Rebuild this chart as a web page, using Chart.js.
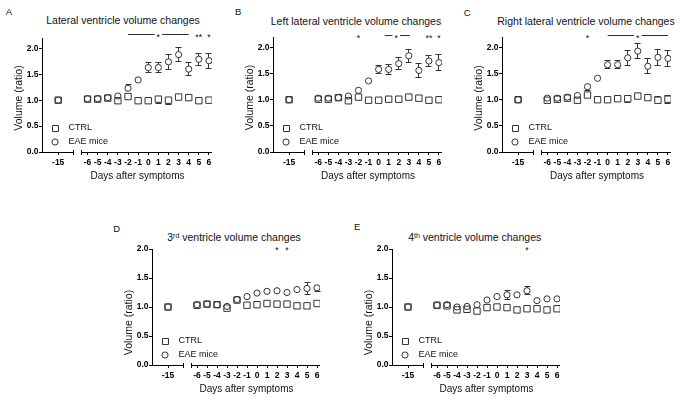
<!DOCTYPE html>
<html lang="en">
<head>
<meta charset="utf-8">
<title>Ventricle volume changes</title>
<script src="https://cdn.jsdelivr.net/npm/chart.js@4.4.1/dist/chart.umd.min.js"></script>
<style>
  html, body { margin: 0; padding: 0; background: #fff; }
  body { position: relative; width: 683px; height: 401px; overflow: hidden;
         font-family: "Liberation Sans", Arial, sans-serif; color: #111; }
  canvas { position: absolute; }
  .letra { position: absolute; font-size: 9.5px; line-height: 1; }
  .titulo { position: absolute; font-size: 10.5px; line-height: 1; white-space: nowrap; transform: translateX(-50%); }
  .titulo span { font-size: 7px; line-height: 0; vertical-align: 3.5px; }
</style>
</head>
<body>
<script>
// Dias despues de los sintomas (el -15 queda antes del corte del eje)
const dias = [-15, -6, -5, -4, -3, -2, -1, 0, 1, 2, 3, 4, 5, 6];
const ticksY = [0, 0.5, 1.0, 1.5, 2.0];
const series = ['CTRL', 'EAE mice'];
const letras = ['A', 'B', 'C', 'D', 'E'];
const titulos = [
  'Lateral ventricle volume changes',
  'Left lateral ventricle volume changes',
  'Right lateral ventricle volume changes',
  '3<span>rd</span> ventricle volume changes',
  '4<span>th</span> ventricle volume changes'
];
const tituloX = 'Days after symptoms';
const tituloY = 'Volume (ratio)';

// A - ventriculo lateral
const ctrlA    = [1.00, 1.02, 1.02, 1.04, 0.99, 1.07, 0.99, 0.99, 1.02, 1.00, 1.06, 1.05, 0.99, 1.00];
const ctrlErrA = [0.00, 0.02, 0.02, 0.02, 0.03, 0.03, 0.02, 0.03, 0.08, 0.08, 0.05, 0.04, 0.06, 0.07];
const eaeA     = [1.00, 1.03, 1.03, 1.05, 1.08, 1.23, 1.39, 1.63, 1.63, 1.74, 1.88, 1.60, 1.79, 1.76];
const eaeErrA  = [0.00, 0.02, 0.02, 0.02, 0.02, 0.07, 0.04, 0.09, 0.09, 0.14, 0.13, 0.12, 0.12, 0.14];
const sigA = [{desde: -2, hasta: 4, en: 1, txt: '*'}, {en: 5, txt: '**'}, {en: 6, txt: '*'}];

// B - ventriculo lateral izquierdo
const ctrlB    = [1.00, 1.01, 1.01, 1.04, 0.98, 1.05, 0.99, 0.99, 1.01, 1.01, 1.05, 1.03, 0.99, 1.00];
const ctrlErrB = [0.00, 0.02, 0.02, 0.02, 0.03, 0.03, 0.02, 0.02, 0.05, 0.06, 0.05, 0.02, 0.02, 0.06];
const eaeB     = [1.00, 1.03, 1.03, 1.04, 1.07, 1.18, 1.36, 1.58, 1.58, 1.69, 1.84, 1.56, 1.74, 1.71];
const eaeErrB  = [0.00, 0.02, 0.02, 0.02, 0.02, 0.06, 0.04, 0.08, 0.09, 0.12, 0.13, 0.13, 0.11, 0.15];
const sigB = [{en: -2, txt: '*'}, {desde: 0.6, hasta: 3.1, en: 1.75, txt: '*'}, {en: 5, txt: '**'}, {en: 6, txt: '*'}];

// C - ventriculo lateral derecho
const ctrlC    = [1.00, 0.99, 1.01, 1.03, 0.99, 1.09, 1.00, 1.00, 1.02, 1.02, 1.07, 1.04, 0.99, 1.01];
const ctrlErrC = [0.00, 0.02, 0.02, 0.02, 0.02, 0.04, 0.02, 0.03, 0.05, 0.07, 0.04, 0.05, 0.07, 0.08];
const eaeC     = [1.00, 1.03, 1.03, 1.05, 1.08, 1.25, 1.41, 1.67, 1.67, 1.80, 1.93, 1.64, 1.81, 1.79];
const eaeErrC  = [0.00, 0.02, 0.02, 0.02, 0.02, 0.07, 0.04, 0.08, 0.08, 0.15, 0.14, 0.14, 0.15, 0.15];
const sigC = [{en: -2, txt: '*'}, {desde: 0, hasta: 6, en: 3, txt: '*'}];

// D - tercer ventriculo
const ctrlD    = [1.00, 1.03, 1.05, 1.04, 0.98, 1.12, 1.03, 1.04, 1.06, 1.05, 1.05, 1.02, 1.02, 1.06];
const ctrlErrD = [0.00, 0.02, 0.01, 0.02, 0.03, 0.01, 0.01, 0.01, 0.01, 0.01, 0.01, 0.01, 0.01, 0.03];
const eaeD     = [1.00, 1.04, 1.05, 1.04, 1.01, 1.13, 1.18, 1.24, 1.27, 1.28, 1.25, 1.30, 1.32, 1.33];
const eaeErrD  = [0.00, 0.03, 0.01, 0.01, 0.02, 0.01, 0.03, 0.04, 0.01, 0.05, 0.04, 0.05, 0.10, 0.06];
const sigD = [{en: 2, txt: '*'}, {en: 3, txt: '*'}];

// E - cuarto ventriculo
const ctrlE    = [1.00, 1.03, 1.02, 0.95, 0.96, 0.93, 0.99, 1.00, 0.99, 0.95, 0.97, 0.97, 0.95, 0.97];
const ctrlErrE = [0.00, 0.01, 0.03, 0.03, 0.03, 0.03, 0.01, 0.01, 0.01, 0.03, 0.01, 0.01, 0.01, 0.01];
const eaeE     = [1.00, 1.03, 1.04, 1.00, 1.01, 1.04, 1.12, 1.18, 1.21, 1.21, 1.28, 1.11, 1.14, 1.14];
const eaeErrE  = [0.00, 0.01, 0.02, 0.02, 0.02, 0.02, 0.03, 0.05, 0.08, 0.05, 0.07, 0.01, 0.01, 0.01];
const sigE = [{en: 3, txt: '*'}];

const datos = [
  {ctrl: ctrlA, ctrlErr: ctrlErrA, eae: eaeA, eaeErr: eaeErrA, sig: sigA, nivel: 2.26, ymax: 2.2},
  {ctrl: ctrlB, ctrlErr: ctrlErrB, eae: eaeB, eaeErr: eaeErrB, sig: sigB, nivel: 2.22, ymax: 2.2},
  {ctrl: ctrlC, ctrlErr: ctrlErrC, eae: eaeC, eaeErr: eaeErrC, sig: sigC, nivel: 2.22, ymax: 2.2},
  {ctrl: ctrlD, ctrlErr: ctrlErrD, eae: eaeD, eaeErr: eaeErrD, sig: sigD, nivel: 2.02, ymax: 2.0},
  {ctrl: ctrlE, ctrlErr: ctrlErrE, eae: eaeE, eaeErr: eaeErrE, sig: sigE, nivel: 2.02, ymax: 2.0}
];

// Posiciones en la pagina: area del grafico [l, t, r, b], letra, titulo
const disposicion = [
  {area: [42, 38, 212, 152],  letra: [5.7, 15],    titulo: [123, 24],    yTitulo: 54},
  {area: [273, 37, 442, 152], letra: [235, 15.3],  titulo: [356, 24.5],  yTitulo: 54.5},
  {area: [502, 37, 671, 152], letra: [463.7, 16.3], titulo: [586, 25.3], yTitulo: 54},
  {area: [152, 249, 320, 365], letra: [113.3, 231.7], titulo: [234, 240.8], yTitulo: 42.5},
  {area: [392, 249, 560, 365], letra: [354, 230],  titulo: [474.7, 240.8], yTitulo: 42.5}
];

const fuente = '"Liberation Sans", Arial, sans-serif';
const corte = [-7.35, -6.55];
Chart.defaults.font.family = fuente;

// el dia -15 se dibuja antes del corte del eje
function posX(d) {
  return d === -15 ? -8.9 : d;
}

function nitido(p) {
  return Math.round(p - 0.5) + 0.5;
}

function detalles(i) {
  const d = datos[i];
  const lay = disposicion[i];
  return {
    id: 'detalles' + i,
    afterDatasetsDraw(chart) {
      const ctx = chart.ctx;
      const sy = chart.scales.y;
      const valores = [d.ctrl, d.eae];
      const errores = [d.ctrlErr, d.eaeErr];
      const medio = [3.2, 3.1];
      ctx.save();
      ctx.strokeStyle = '#333';
      ctx.lineWidth = 1;
      ctx.beginPath();
      errores.forEach((errs, k) => {
        chart.getDatasetMeta(k).data.forEach((pt, j) => {
          const x = nitido(pt.x);
          const ya = nitido(sy.getPixelForValue(valores[k][j] + errs[j]));
          const yb = nitido(sy.getPixelForValue(valores[k][j] - errs[j]));
          if (pt.y - ya > medio[k] + 0.5) {
            ctx.moveTo(x, pt.y - medio[k]); ctx.lineTo(x, ya);
            ctx.moveTo(x - 3, ya); ctx.lineTo(x + 3, ya);
          }
          if (yb - pt.y > medio[k] + 0.5) {
            ctx.moveTo(x, pt.y + medio[k]); ctx.lineTo(x, yb);
            ctx.moveTo(x - 3, yb); ctx.lineTo(x + 3, yb);
          }
        });
      });
      ctx.stroke();
      ctx.restore();
    },
    afterDraw(chart) {
      const ctx = chart.ctx;
      const a = chart.chartArea;
      const sx = chart.scales.x;
      const sy = chart.scales.y;
      ctx.save();

      // eje x partido
      ctx.strokeStyle = '#000';
      ctx.lineWidth = 1;
      const y0 = nitido(a.bottom);
      const c1 = nitido(sx.getPixelForValue(corte[0]));
      const c2 = nitido(sx.getPixelForValue(corte[1]));
      ctx.beginPath();
      ctx.moveTo(a.left, y0); ctx.lineTo(c1, y0);
      ctx.moveTo(c1, y0 - 2.5); ctx.lineTo(c1, y0 + 2.5);
      ctx.moveTo(c2, y0 - 2.5); ctx.lineTo(c2, y0 + 2.5);
      ctx.moveTo(c2, y0); ctx.lineTo(a.right, y0);
      ctx.stroke();

      // asteriscos de significancia
      ctx.fillStyle = '#111';
      ctx.strokeStyle = '#333';
      ctx.font = '9px ' + fuente;
      ctx.textAlign = 'center';
      ctx.textBaseline = 'alphabetic';
      const ys = nitido(sy.getPixelForValue(d.nivel));
      d.sig.forEach(s => {
        const xs = sx.getPixelForValue(posX(s.en));
        ctx.fillText(s.txt, xs, ys + 5);
        if (s.desde !== undefined) {
          const hueco = ctx.measureText(s.txt).width / 2 + 2;
          ctx.beginPath();
          ctx.moveTo(sx.getPixelForValue(posX(s.desde)), ys); ctx.lineTo(xs - hueco, ys);
          ctx.moveTo(xs + hueco, ys); ctx.lineTo(sx.getPixelForValue(posX(s.hasta)), ys);
          ctx.stroke();
        }
      });

      // leyenda dentro del area
      ctx.textAlign = 'left';
      ctx.textBaseline = 'middle';
      const lx = a.left + 13;
      [a.bottom - 24, a.bottom - 10].forEach((ly, k) => {
        ctx.beginPath();
        if (k === 0) ctx.rect(nitido(lx - 3), nitido(ly - 3), 6, 6);
        else ctx.arc(lx, ly, 3.1, 0, 2 * Math.PI);
        ctx.stroke();
        ctx.fillText(series[k], a.left + 26.5, ly);
      });

      // titulos de los ejes
      ctx.textAlign = 'center';
      ctx.font = '10px ' + fuente;
      ctx.fillText(tituloX, (a.left + a.right) / 2 + 10.5, a.bottom + 24);
      ctx.translate(a.left - 23, a.bottom - lay.yTitulo);
      ctx.rotate(-Math.PI / 2);
      ctx.font = '10.5px ' + fuente;
      ctx.fillText(tituloY, 0, 0);
      ctx.restore();
    }
  };
}

function crearPanel(i) {
  const d = datos[i];
  const lay = disposicion[i];
  const [l, t, r, b] = lay.area;
  const izq = 40, arriba = 22, abajo = 34, der = 6;

  const letra = document.createElement('div');
  letra.className = 'letra';
  letra.textContent = letras[i];
  letra.style.left = lay.letra[0] + 'px';
  letra.style.top = (lay.letra[1] - 0.8465 * 9.5) + 'px';
  document.body.appendChild(letra);

  const titulo = document.createElement('div');
  titulo.className = 'titulo';
  titulo.innerHTML = titulos[i];
  titulo.style.left = lay.titulo[0] + 'px';
  titulo.style.top = (lay.titulo[1] - 0.8465 * 10.5) + 'px';
  document.body.appendChild(titulo);

  const canvas = document.createElement('canvas');
  const w = (r - l) + izq + der;
  const h = (b - t) + arriba + abajo;
  canvas.width = w;
  canvas.height = h;
  canvas.style.width = w + 'px';
  canvas.style.height = h + 'px';
  canvas.style.left = (l - izq) + 'px';
  canvas.style.top = (t - arriba) + 'px';
  document.body.appendChild(canvas);

  const puntos = vals => vals.map((v, j) => ({x: posX(dias[j]), y: v}));

  new Chart(canvas, {
    type: 'scatter',
    data: {
      datasets: [
        {label: series[0], data: puntos(d.ctrl), pointStyle: 'rect', pointRadius: 4.5, pointHoverRadius: 4.5,
         borderColor: '#333', backgroundColor: 'rgba(255,255,255,0)', borderWidth: 1},
        {label: series[1], data: puntos(d.eae), pointStyle: 'circle', pointRadius: 3.1, pointHoverRadius: 3.1,
         borderColor: '#333', backgroundColor: 'rgba(255,255,255,0)', borderWidth: 1}
      ]
    },
    options: {
      responsive: false,
      animation: false,
      events: [],
      layout: {padding: {left: 0, top: arriba, right: der, bottom: 0}},
      plugins: {legend: {display: false}, tooltip: {enabled: false}},
      scales: {
        x: {
          type: 'linear', min: -10.5, max: 6.3,
          border: {display: false},
          grid: {drawOnChartArea: false, tickLength: 3, color: '#000'},
          ticks: {color: '#000', font: {size: 8.5, weight: 'bold'}, padding: 2.5, maxRotation: 0, autoSkip: false,
                  callback: (v, j) => String(dias[j])},
          afterBuildTicks: s => { s.ticks = dias.map(x => ({value: posX(x)})); },
          afterFit: s => { s.height = abajo; s.paddingLeft = 0; s.paddingRight = 0; }
        },
        y: {
          type: 'linear', min: 0, max: d.ymax,
          border: {display: true, color: '#000', width: 1},
          grid: {drawOnChartArea: false, tickLength: 3, color: '#000'},
          ticks: {color: '#000', font: {size: 8.5, weight: 'bold'}, padding: 0.5,
                  callback: v => v.toFixed(1)},
          afterBuildTicks: s => { s.ticks = ticksY.map(v => ({value: v})); },
          afterFit: s => { s.width = izq; s.paddingTop = 0; s.paddingBottom = 0; }
        }
      }
    },
    plugins: [detalles(i)]
  });
}

for (let i = 0; i < datos.length; i++) {
  crearPanel(i);
}
</script>
</body>
</html>
